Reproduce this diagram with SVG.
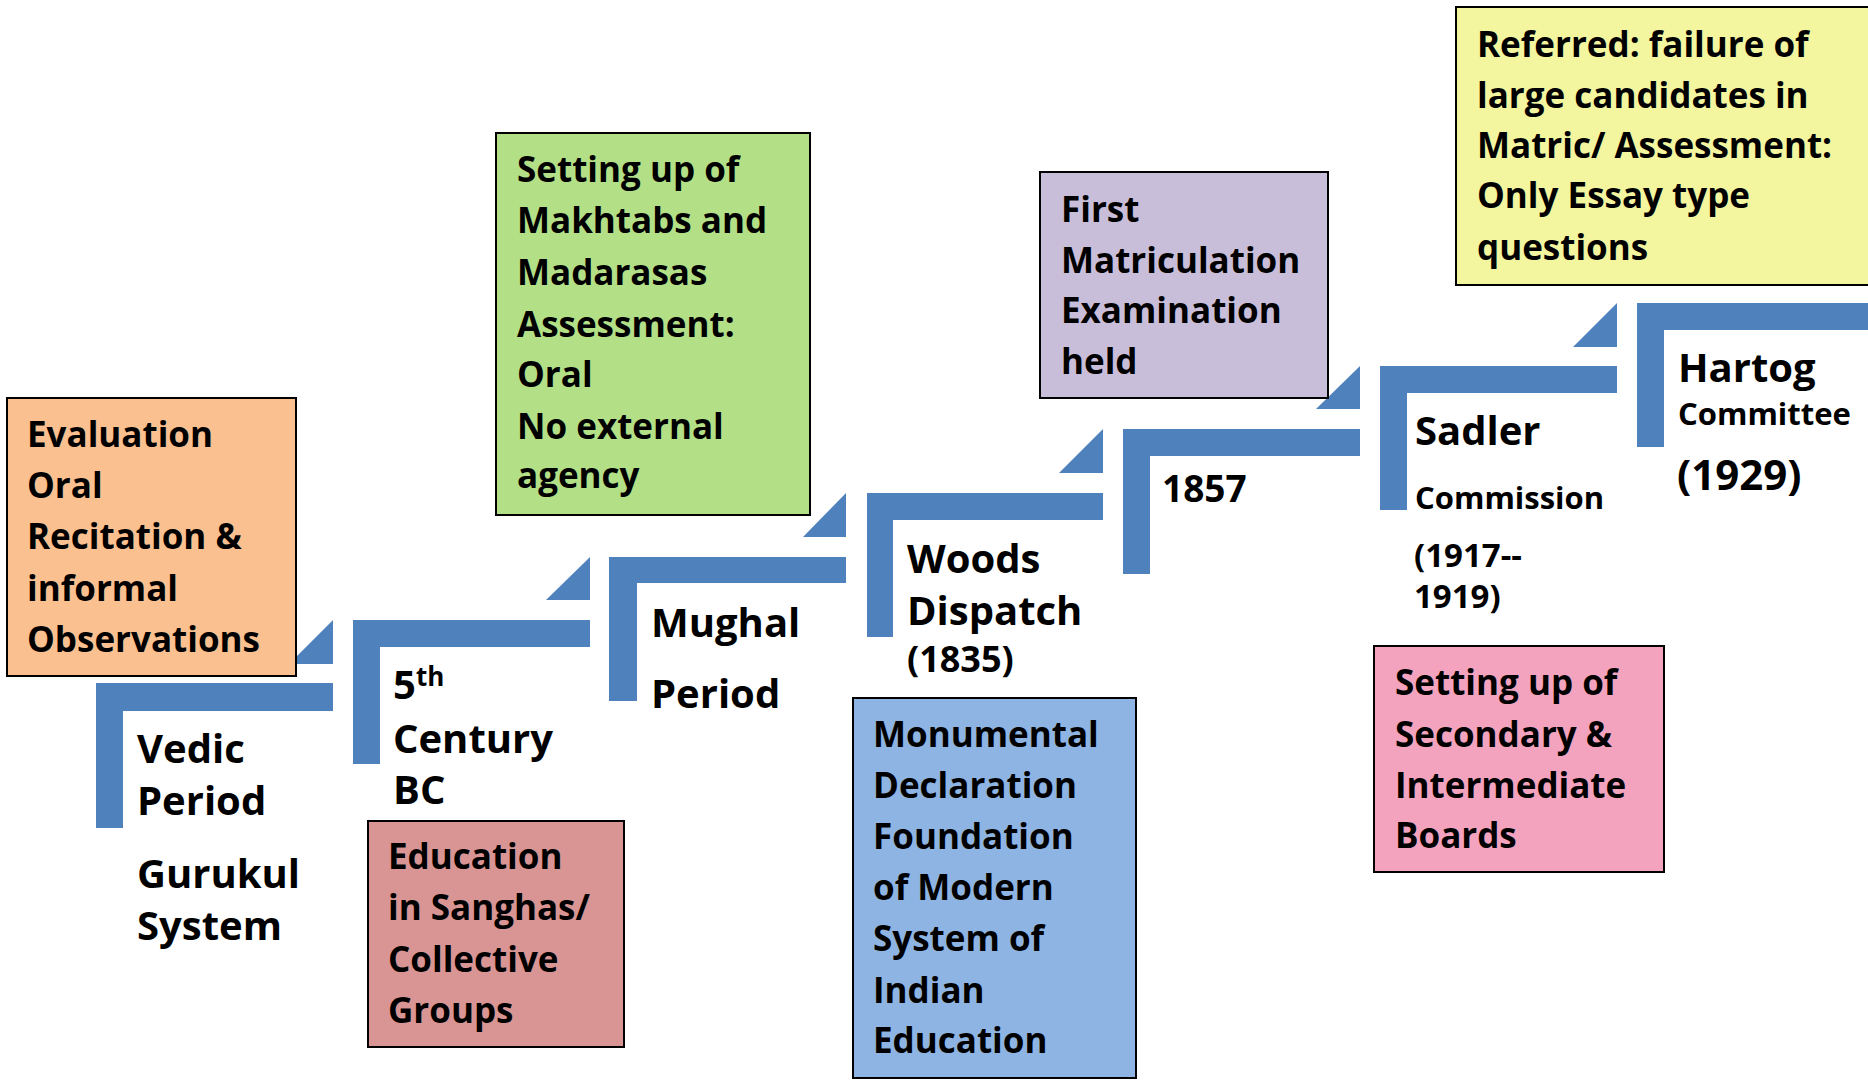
<svg xmlns="http://www.w3.org/2000/svg" width="1868" height="1080" viewBox="0 0 1868 1080">
  <style>
    text { font-family: "Open Sans", Lato, "Liberation Sans", sans-serif; font-weight: 700; fill: #000; }
    .bx { font-size: 35px; }
    .lb { font-size: 40px; }
    .sm { font-size: 31px; }
    .yr { font-size: 33px; }
    .step { fill: #4F81BD; }
    .box { stroke: #000; stroke-width: 2; }
  </style>
  <rect width="1868" height="1080" fill="#fff"/>

  <g id="connectors">
    <polygon class="step" points="289,664 333,620 333,664"/>
    <polygon class="step" points="546,600 590,557 590,600"/>
    <polygon class="step" points="803,537 846,493 846,537"/>
    <polygon class="step" points="1059,473 1103,429 1103,473"/>
    <polygon class="step" points="1316,409 1360,366 1360,409"/>
    <polygon class="step" points="1573,347 1617,303 1617,347"/>
  </g>

  <g id="vedic">
    <path class="step" d="M96,683 H333 V711 H123 V828 H96 Z"/>
    <text class="lb" x="137" y="763">Vedic</text>
    <text class="lb" x="137" y="815">Period</text>
    <text class="lb" x="137" y="888">Gurukul</text>
    <text class="lb" x="137" y="940">System</text>
  </g>
  <g id="vedic-note">
    <rect class="box" x="7" y="398" width="289" height="278" fill="#FAC090"/>
    <text class="bx" x="27" y="447">Evaluation</text>
    <text class="bx" x="27" y="498">Oral</text>
    <text class="bx" x="27" y="549">Recitation &amp;</text>
    <text class="bx" x="27" y="601">informal</text>
    <text class="bx" x="27" y="652">Observations</text>
  </g>

  <g id="century">
    <path class="step" d="M353,620 H590 V647 H380 V764 H353 Z"/>
    <text class="lb" x="393" y="699">5<tspan font-size="26" dy="-13">th</tspan></text>
    <text class="lb" x="393" y="753">Century</text>
    <text class="lb" x="393" y="804">BC</text>
  </g>
  <g id="century-note">
    <rect class="box" x="368" y="821" width="256" height="226" fill="#D99594"/>
    <text class="bx" x="388" y="869">Education</text>
    <text class="bx" x="388" y="920">in Sanghas/</text>
    <text class="bx" x="388" y="972">Collective</text>
    <text class="bx" x="388" y="1023">Groups</text>
  </g>

  <g id="mughal">
    <path class="step" d="M609,557 H846 V583 H637 V701 H609 Z"/>
    <text class="lb" x="651" y="637">Mughal</text>
    <text class="lb" x="651" y="708">Period</text>
  </g>
  <g id="mughal-note">
    <rect class="box" x="496" y="133" width="314" height="382" fill="#B3DF86"/>
    <text class="bx" x="517" y="182">Setting up of</text>
    <text class="bx" x="517" y="233">Makhtabs and</text>
    <text class="bx" x="517" y="285">Madarasas</text>
    <text class="bx" x="517" y="337">Assessment:</text>
    <text class="bx" x="517" y="387">Oral</text>
    <text class="bx" x="517" y="439">No external</text>
    <text class="bx" x="517" y="488">agency</text>
  </g>

  <g id="woods">
    <path class="step" d="M867,493 H1103 V520 H893 V637 H867 Z"/>
    <text class="lb" x="907" y="573">Woods</text>
    <text class="lb" x="907" y="625">Dispatch</text>
    <text x="907" y="672" font-size="36">(1835)</text>
  </g>
  <g id="woods-note">
    <rect class="box" x="853" y="698" width="283" height="380" fill="#8EB4E3"/>
    <text class="bx" x="873" y="747">Monumental</text>
    <text class="bx" x="873" y="798">Declaration</text>
    <text class="bx" x="873" y="849">Foundation</text>
    <text class="bx" x="873" y="900">of Modern</text>
    <text class="bx" x="873" y="951">System of</text>
    <text class="bx" x="873" y="1003">Indian</text>
    <text class="bx" x="873" y="1053">Education</text>
  </g>

  <g id="y1857">
    <path class="step" d="M1123,429 H1360 V456 H1150 V574 H1123 Z"/>
    <text x="1162" y="502" font-size="37">1857</text>
  </g>
  <g id="y1857-note">
    <rect class="box" x="1040" y="172" width="288" height="226" fill="#C9BED9"/>
    <text class="bx" x="1061" y="222">First</text>
    <text class="bx" x="1061" y="273">Matriculation</text>
    <text class="bx" x="1061" y="323">Examination</text>
    <text class="bx" x="1061" y="374">held</text>
  </g>

  <g id="sadler">
    <path class="step" d="M1380,366 H1617 V393 H1407 V510 H1380 Z"/>
    <text class="lb" x="1415" y="445">Sadler</text>
    <text class="sm" x="1415" y="509">Commission</text>
    <text class="yr" x="1414" y="567">(1917--</text>
    <text class="yr" x="1414" y="608">1919)</text>
  </g>
  <g id="sadler-note">
    <rect class="box" x="1374" y="646" width="290" height="226" fill="#F4A3BE"/>
    <text class="bx" x="1395" y="695">Setting up of</text>
    <text class="bx" x="1395" y="747">Secondary &amp;</text>
    <text class="bx" x="1395" y="798">Intermediate</text>
    <text class="bx" x="1395" y="848">Boards</text>
  </g>

  <g id="hartog">
    <path class="step" d="M1637,303 H1872 V330 H1664 V447 H1637 Z"/>
    <text class="lb" x="1678" y="382">Hartog</text>
    <text class="sm" x="1678" y="425">Committee</text>
    <text x="1677" y="490" font-size="42">(1929)</text>
  </g>
  <g id="hartog-note">
    <rect class="box" x="1456" y="7" width="420" height="278" fill="#F3F59F"/>
    <text class="bx" x="1477" y="57">Referred: failure of</text>
    <text class="bx" x="1477" y="108">large candidates in</text>
    <text class="bx" x="1477" y="158">Matric/ Assessment:</text>
    <text class="bx" x="1477" y="208">Only Essay type</text>
    <text class="bx" x="1477" y="260">questions</text>
  </g>
</svg>
